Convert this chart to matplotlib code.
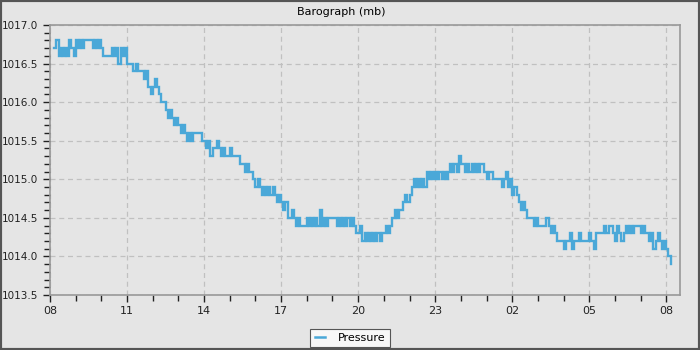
import matplotlib
matplotlib.use("Agg")
import matplotlib.pyplot as plt
import matplotlib.dates as mdates
import pandas as pd
from matplotlib.lines import Line2D
from matplotlib.patches import Rectangle
from matplotlib.ticker import MultipleLocator, FormatStrFormatter

# barometer readings, one every 5 minutes from 08:10 (one row per hour)
start_time = "2024-03-10 08:10"
step = "5min"
pressure_mb = [
    1016.7, 1016.8, 1016.6, 1016.7, 1016.6, 1016.7, 1016.6, 1016.8, 1016.7, 1016.6,
    1016.8, 1016.7, 1016.8, 1016.7, 1016.8, 1016.8, 1016.8, 1016.8, 1016.7, 1016.8, 1016.7, 1016.8,
    1016.7, 1016.6, 1016.6, 1016.6, 1016.6, 1016.7, 1016.6, 1016.7, 1016.5, 1016.7, 1016.6, 1016.7,
    1016.5, 1016.5, 1016.5, 1016.4, 1016.5, 1016.4, 1016.4, 1016.4, 1016.3, 1016.4, 1016.2, 1016.1,
    1016.2, 1016.3, 1016.2, 1016.1, 1016.0, 1016.0, 1015.9, 1015.8, 1015.9, 1015.8, 1015.7, 1015.8,
    1015.7, 1015.6, 1015.7, 1015.6, 1015.5, 1015.6, 1015.5, 1015.6, 1015.6, 1015.6, 1015.6, 1015.5,
    1015.5, 1015.4, 1015.5, 1015.3, 1015.4, 1015.4, 1015.5, 1015.4, 1015.3, 1015.4, 1015.3, 1015.3,
    1015.4, 1015.3, 1015.3, 1015.3, 1015.3, 1015.2, 1015.2, 1015.1, 1015.2, 1015.1, 1015.1, 1015.0,
    1014.9, 1015.0, 1014.9, 1014.8, 1014.9, 1014.8, 1014.9, 1014.8, 1014.9, 1014.8, 1014.7, 1014.8,
    1014.7, 1014.6, 1014.7, 1014.5, 1014.5, 1014.6, 1014.5, 1014.4, 1014.5, 1014.4, 1014.4, 1014.4,
    1014.5, 1014.4, 1014.5, 1014.4, 1014.5, 1014.4, 1014.6, 1014.4, 1014.5, 1014.4, 1014.5, 1014.5,
    1014.5, 1014.5, 1014.4, 1014.5, 1014.4, 1014.5, 1014.4, 1014.5, 1014.4, 1014.5, 1014.4, 1014.3,
    1014.3, 1014.4, 1014.2, 1014.3, 1014.2, 1014.3, 1014.2, 1014.3, 1014.2, 1014.3, 1014.2, 1014.3,
    1014.3, 1014.4, 1014.3, 1014.4, 1014.5, 1014.6, 1014.5, 1014.6, 1014.6, 1014.7, 1014.8, 1014.7,
    1014.8, 1014.9, 1015.0, 1014.9, 1015.0, 1014.9, 1015.0, 1014.9, 1015.1, 1015.0, 1015.1, 1015.0,
    1015.1, 1015.0, 1015.1, 1015.0, 1015.1, 1015.0, 1015.1, 1015.2, 1015.1, 1015.2, 1015.1, 1015.3,
    1015.2, 1015.2, 1015.1, 1015.2, 1015.1, 1015.2, 1015.1, 1015.2, 1015.1, 1015.2, 1015.2, 1015.1,
    1015.0, 1015.1, 1015.1, 1015.0, 1015.0, 1015.0, 1015.0, 1014.9, 1015.0, 1015.1, 1014.9, 1015.0,
    1014.8, 1014.9, 1014.8, 1014.7, 1014.6, 1014.7, 1014.6, 1014.5, 1014.5, 1014.5, 1014.4, 1014.5,
    1014.4, 1014.4, 1014.4, 1014.4, 1014.5, 1014.4, 1014.3, 1014.4, 1014.3, 1014.2, 1014.2, 1014.2,
    1014.1, 1014.2, 1014.2, 1014.3, 1014.1, 1014.2, 1014.2, 1014.3, 1014.2, 1014.2, 1014.2, 1014.2,
    1014.3, 1014.2, 1014.1, 1014.3, 1014.3, 1014.3, 1014.3, 1014.4, 1014.3, 1014.4, 1014.4, 1014.3,
    1014.2, 1014.4, 1014.3, 1014.2, 1014.3, 1014.4, 1014.3, 1014.4, 1014.3, 1014.4, 1014.4, 1014.4,
    1014.3, 1014.4, 1014.3, 1014.3, 1014.2, 1014.3, 1014.1, 1014.2, 1014.3, 1014.2, 1014.1, 1014.2,
    1014.1, 1014.0, 1013.9,
]
x_start = "2024-03-10 08:00"
x_end = "2024-03-11 08:32"
y_min, y_max = 1013.5, 1017.0

times = pd.date_range(start=start_time, periods=len(pressure_mb), freq=step)

bg = "#e5e5e5"
blue = "#4aa8d8"

fig = plt.figure(figsize=(7, 3.5), dpi=100, facecolor=bg)
ax = fig.add_axes([50 / 700, 55 / 350, 630 / 700, 270 / 350])
ax.set_facecolor(bg)

ax.plot(times, pressure_mb, drawstyle="steps-post", color=blue, linewidth=1.7,
        solid_joinstyle="miter", label="Pressure")

ax.set_xlim(pd.Timestamp(x_start), pd.Timestamp(x_end))
ax.set_ylim(y_min, y_max)

ax.xaxis.set_major_locator(mdates.HourLocator(byhour=range(2, 24, 3)))
ax.xaxis.set_minor_locator(mdates.HourLocator())
ax.xaxis.set_major_formatter(mdates.DateFormatter("%H"))
ax.yaxis.set_major_locator(MultipleLocator(0.5))
ax.yaxis.set_minor_locator(MultipleLocator(0.1))
ax.yaxis.set_major_formatter(FormatStrFormatter("%.1f"))

ax.tick_params(which="both", direction="out", colors="#222222", labelsize=8, width=1)
ax.tick_params(which="major", length=5)
ax.tick_params(which="minor", length=4)
ax.tick_params(axis="y", which="major", pad=3.5, labelsize=7.5)
ax.tick_params(axis="x", which="major", pad=3)

for s in ax.spines.values():
    s.set_color("#999999")
    s.set_linewidth(1.2)

ax.grid(True, which="major", color="#c0c0c0", linestyle=(0, (4, 3)), linewidth=0.9)
ax.set_axisbelow(True)

fig.text(341.5 / 700, 1 - 12 / 350, "Barograph (mb)", ha="center", va="center", fontsize=8)

handle = Line2D([], [], color=blue, linewidth=1.8)
leg = fig.legend([handle], ["Pressure"], loc="center", bbox_to_anchor=(0.5, 1 - 338 / 350),
                 fontsize=8, frameon=True, fancybox=False, handlelength=0.9,
                 borderpad=0.4, handletextpad=1.2, borderaxespad=0)
leg.get_frame().set_facecolor("#f7f7f7")
leg.get_frame().set_edgecolor("#555555")
leg.get_frame().set_linewidth(0.8)
leg.get_frame().set_alpha(1)

# dark frame around the whole picture
fig.patches.append(Rectangle((0, 0), 1, 1, transform=fig.transFigure, fill=False,
                             edgecolor="#555555", linewidth=3, zorder=10))

fig.savefig("out.png", dpi=100, facecolor=bg)
